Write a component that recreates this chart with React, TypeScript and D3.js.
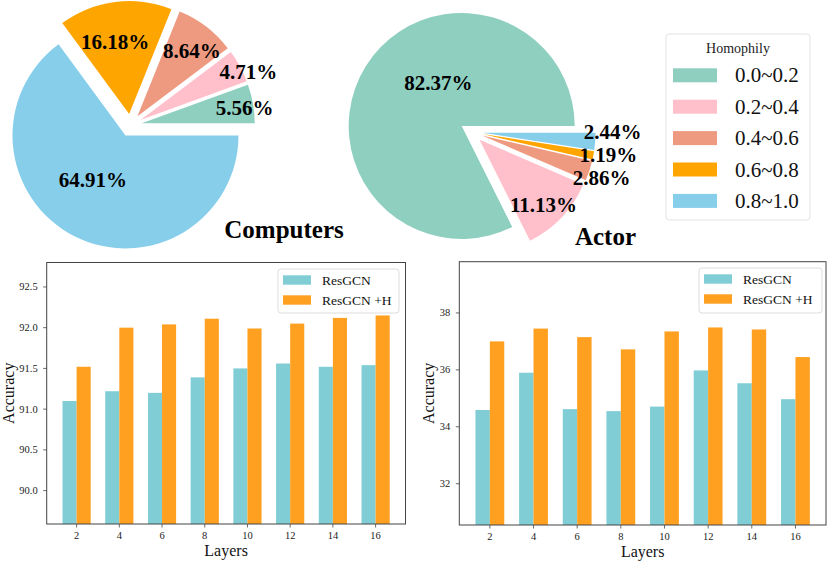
import React from "react";
import * as d3 from "d3";

// ---------- data ----------
const homophilyBins = ["0.0~0.2", "0.2~0.4", "0.4~0.6", "0.6~0.8", "0.8~1.0"];
const computersShare = [5.56, 4.71, 8.64, 16.18, 64.91];
const actorShare = [82.37, 11.13, 2.86, 1.19, 2.44];

const layers = [2, 4, 6, 8, 10, 12, 14, 16];
const computersResGCN = [91.1, 91.22, 91.2, 91.39, 91.5, 91.56, 91.52, 91.54];
const computersResGCNH = [91.52, 92.0, 92.04, 92.11, 91.99, 92.05, 92.12, 92.15];
const actorResGCN = [34.59, 35.9, 34.62, 34.55, 34.71, 35.98, 35.53, 34.97];
const actorResGCNH = [37.0, 37.45, 37.15, 36.72, 37.35, 37.49, 37.42, 36.45];

const seriesNames = ["ResGCN", "ResGCN +H"];
const computersTicks = [90.0, 90.5, 91.0, 91.5, 92.0, 92.5];
const actorTicks = [32, 34, 36, 38];

// ---------- style ----------
const FONT = "'Liberation Serif', 'Times New Roman', serif";
const pieColors = ["#8ECFC0", "#FFC0CB", "#EE9A80", "#FFA500", "#87CEEB"];
const barColors = ["#80CDD6", "#FFA020"];

// label placement (math angle in degrees, distance as fraction of radius)
const computersLabelPos = [
  [8.3, 0.92],
  [24, 1.045],
  [50, 0.75],
  [101, 0.65],
  [234, 0.49],
];
const actorLabelPos = [
  [118.7, 0.43],
  [314.3, 0.81],
  [340.3, 1.125],
  [350.5, 1.13],
  [0.2, 1.15],
];

type PieProps = {
  values: number[];
  cx: number;
  cy: number;
  r: number;
  labelPos: number[][];
  title: string;
  titleX: number;
  titleY: number;
};

function Pie({ values, cx, cy, r, labelPos, title, titleX, titleY }: PieProps) {
  const explode = 0.1 * r;
  const pie = d3
    .pie<number>()
    .sort(null)
    .startAngle(Math.PI / 2)
    .endAngle(Math.PI / 2 - 2 * Math.PI);
  const arcs = pie(values);
  const arc = d3.arc<d3.PieArcDatum<number>>().innerRadius(0).outerRadius(r);
  return (
    <g>
      {arcs.map((a, i) => {
        const mid = (a.startAngle + a.endAngle) / 2;
        const ox = cx + explode * Math.sin(mid);
        const oy = cy - explode * Math.cos(mid);
        const [ang, dist] = labelPos[i];
        const phi = (ang * Math.PI) / 180;
        const lx = ox + dist * r * Math.cos(phi);
        const ly = oy - dist * r * Math.sin(phi);
        return (
          <g key={i}>
            <path
              d={arc(a) as string}
              transform={`translate(${ox},${oy})`}
              fill={pieColors[i]}
            />
            <text
              x={lx}
              y={ly}
              textAnchor="middle"
              dominantBaseline="central"
              fontFamily={FONT}
              fontWeight="bold"
              fontSize={21}
              fill="#000"
            >
              {values[i].toFixed(2)}%
            </text>
          </g>
        );
      })}
      <text
        x={titleX}
        y={titleY}
        textAnchor="middle"
        fontFamily={FONT}
        fontWeight="bold"
        fontSize={25}
        fill="#000"
      >
        {title}
      </text>
    </g>
  );
}

type BarProps = {
  left: number;
  right: number;
  top: number;
  bottom: number;
  yDomain: [number, number];
  ticks: number[];
  fmt: string;
  a: number[];
  b: number[];
  legendBox: [number, number, number, number];
  ylabelX: number;
};

function BarChart({ left, right, top, bottom, yDomain, ticks, fmt, a, b, legendBox, ylabelX }: BarProps) {
  const x = d3.scaleLinear().domain([-0.7, layers.length - 1 + 0.7]).range([left, right]);
  const y = d3.scaleLinear().domain(yDomain).range([bottom, top]);
  const step = x(1) - x(0);
  const bw = step * 0.33;
  const f = d3.format(fmt);
  const [lx0, ly0, lx1, ly1] = legendBox;
  return (
    <g>
      {layers.map((l, i) => (
        <g key={l}>
          <rect
            x={x(i) - bw}
            y={y(a[i])}
            width={bw}
            height={bottom - y(a[i])}
            fill={barColors[0]}
          />
          <rect
            x={x(i)}
            y={y(b[i])}
            width={bw}
            height={bottom - y(b[i])}
            fill={barColors[1]}
          />
        </g>
      ))}
      <rect
        x={left}
        y={top}
        width={right - left}
        height={bottom - top}
        fill="none"
        stroke="#444"
        strokeWidth={1}
      />
      {ticks.map((t) => (
        <g key={t}>
          <line x1={left - 3.5} x2={left} y1={y(t)} y2={y(t)} stroke="#444" strokeWidth={0.8} />
          <text
            x={left - 9}
            y={y(t)}
            textAnchor="end"
            dominantBaseline="central"
            fontFamily={FONT}
            fontSize={10.5}
            fill="#222"
          >
            {f(t)}
          </text>
        </g>
      ))}
      {layers.map((l, i) => (
        <g key={l}>
          <line x1={x(i)} x2={x(i)} y1={bottom} y2={bottom + 3.5} stroke="#444" strokeWidth={0.8} />
          <text
            x={x(i)}
            y={bottom + 15}
            textAnchor="middle"
            fontFamily={FONT}
            fontSize={10.5}
            fill="#222"
          >
            {l}
          </text>
        </g>
      ))}
      <text
        x={(left + right) / 2}
        y={bottom + 32}
        textAnchor="middle"
        fontFamily={FONT}
        fontSize={16}
        fill="#111"
      >
        Layers
      </text>
      <text
        transform={`translate(${ylabelX},${(top + bottom) / 2}) rotate(-90)`}
        textAnchor="middle"
        dominantBaseline="central"
        fontFamily={FONT}
        fontSize={16}
        fill="#111"
      >
        Accuracy
      </text>
      <rect
        x={lx0}
        y={ly0}
        width={lx1 - lx0}
        height={ly1 - ly0}
        rx={3}
        fill="#fff"
        fillOpacity={0.85}
        stroke="#ddd"
        strokeWidth={1}
      />
      {seriesNames.map((s, i) => {
        const cyy = ly0 + 11 + i * 20;
        return (
          <g key={s}>
            <rect x={lx0 + 5} y={cyy - 4.7} width={28} height={9.4} fill={barColors[i]} />
            <text
              x={lx0 + 44}
              y={cyy}
              dominantBaseline="central"
              fontFamily={FONT}
              fontSize={13.5}
              fill="#111"
            >
              {s}
            </text>
          </g>
        );
      })}
    </g>
  );
}

export default function App() {
  return (
    <svg
      width={831}
      height={564}
      style={{ position: "absolute", left: 0, top: 0, background: "#fff" }}
    >
      <rect x={0} y={0} width={831} height={564} fill="#fff" />
      <Pie
        values={computersShare}
        cx={130.6}
        cy={125.3}
        r={113}
        labelPos={computersLabelPos}
        title="Computers"
        titleX={284}
        titleY={238}
      />
      <Pie
        values={actorShare}
        cx={471.3}
        cy={131.9}
        r={113}
        labelPos={actorLabelPos}
        title="Actor"
        titleX={605.5}
        titleY={245}
      />
      {/* pie legend */}
      <g>
        <rect x={666} y={34} width={144} height={186} rx={3} fill="#fff" stroke="#e2e2e2" strokeWidth={1} />
        <text x={738} y={53} textAnchor="middle" fontFamily={FONT} fontSize={14} fill="#222">
          Homophily
        </text>
        {homophilyBins.map((b, i) => {
          const cyy = 75.3 + i * 31.4;
          return (
            <g key={b}>
              <rect x={673} y={cyy - 7} width={44} height={14} fill={pieColors[i]} />
              <text
                x={735}
                y={cyy}
                dominantBaseline="central"
                fontFamily={FONT}
                fontSize={21}
                fill="#111"
              >
                {b}
              </text>
            </g>
          );
        })}
      </g>
      <BarChart
        left={46.7}
        right={405.5}
        top={262.5}
        bottom={524}
        yDomain={[89.59, 92.8]}
        ticks={computersTicks}
        fmt=".1f"
        a={computersResGCN}
        b={computersResGCNH}
        legendBox={[278, 269, 399, 313]}
        ylabelX={8.5}
      />
      <BarChart
        left={459.3}
        right={826}
        top={261.7}
        bottom={525}
        yDomain={[30.55, 39.8]}
        ticks={actorTicks}
        fmt="d"
        a={actorResGCN}
        b={actorResGCNH}
        legendBox={[699, 268, 822, 313]}
        ylabelX={428.5}
      />
    </svg>
  );
}
